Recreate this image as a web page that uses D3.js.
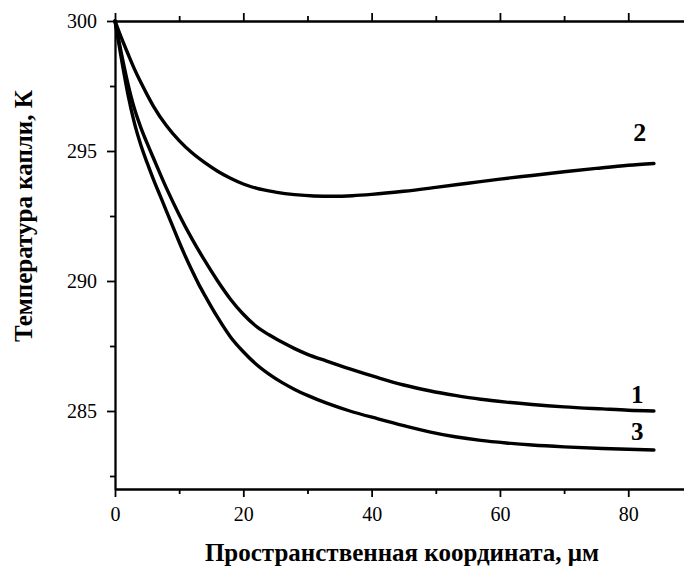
<!doctype html>
<html lang="ru">
<head>
<meta charset="UTF-8">
<title>Температура капли</title>
<script src="https://cdn.jsdelivr.net/npm/d3@7"></script>
<style>
	body { margin: 0; background: #fff; }
	svg text { font-family: "Liberation Serif", "Times New Roman", serif; fill: #000; }
	.axis path, .axis line { stroke: #000; stroke-width: 1.8; }
	.axis text { font-size: 20px; }
	.curve { fill: none; stroke: #000; stroke-width: 3.4; stroke-linejoin: round; stroke-linecap: round; }
	.title { font-size: 25px; font-weight: bold; }
</style>
</head>
<body>
<svg width="684" height="568"></svg>
<script>
// values (x in μm, T in K)
var x1 = [0, 1, 2, 3, 4, 5, 6, 8, 10, 12, 14, 16, 18, 20, 22, 24, 26, 28, 30, 33, 36.6, 41, 45, 49, 53, 57, 61, 65, 70, 76, 80, 84];
var t1 = [300, 298.75, 297.6, 296.65, 295.92, 295.3, 294.72, 293.58, 292.55, 291.62, 290.78, 290.0, 289.3, 288.72, 288.26, 287.93, 287.65, 287.4, 287.18, 286.92, 286.62, 286.28, 286.0, 285.78, 285.6, 285.45, 285.34, 285.25, 285.16, 285.08, 285.03, 285.0];

var x2 = [0, 1, 2, 3, 4, 5, 6, 8, 10, 12, 14, 16, 18, 20, 22, 25, 28, 31, 34, 37, 40, 45, 50, 55, 60, 65, 70, 75, 80, 84];
var t2 = [300, 299.35, 298.75, 298.17, 297.65, 297.17, 296.72, 295.98, 295.4, 294.93, 294.55, 294.22, 293.95, 293.73, 293.57, 293.42, 293.32, 293.27, 293.26, 293.28, 293.33, 293.45, 293.6, 293.76, 293.92, 294.06, 294.2, 294.33, 294.45, 294.52];

var x3 = [0, 1, 2, 3, 4, 5, 6, 7, 8, 9, 10, 11, 12, 13, 14, 16, 18, 20, 22, 24, 26, 28, 30, 33, 36.6, 41, 45, 49, 53, 57, 61, 65, 70, 76, 80, 84];
var t3 = [300, 298.55, 297.2, 296.1, 295.25, 294.55, 293.9, 293.3, 292.7, 292.1, 291.5, 290.93, 290.4, 289.9, 289.45, 288.6, 287.85, 287.28, 286.8, 286.42, 286.1, 285.83, 285.6, 285.3, 285.0, 284.7, 284.44, 284.2, 284.01, 283.87, 283.77, 283.69, 283.62, 283.56, 283.53, 283.5];

var xTicks = [0, 20, 40, 60, 80];
var xMinor = [10, 30, 50, 70];
var yTicks = [285, 290, 295, 300];
var yMinor = [282.5, 287.5, 292.5, 297.5];

var labels = [
	{ name: '1', x: 81.4, t: 285.3, size: 25 },
	{ name: '2', x: 81.8, t: 295.4, size: 26 },
	{ name: '3', x: 81.4, t: 283.9, size: 25 }
];

var svg = d3.select('svg');
var pLeft = 115, pRight = 686, pTop = 21, pBottom = 489;

var x = d3.scaleLinear().domain([0, 89]).range([pLeft, pRight]);
var y = d3.scaleLinear().domain([282, 300]).range([pBottom, pTop]);

// axes: outer ticks on bottom/left, inner ticks on top/right
function addAxis(axis, tr) {
	return svg.append('g').attr('class', 'axis').attr('transform', tr).call(axis);
}
addAxis(d3.axisBottom(x).tickValues(xTicks).tickSize(8).tickPadding(10).tickSizeOuter(0), 'translate(0,' + pBottom + ')');
addAxis(d3.axisBottom(x).tickValues(xMinor).tickSize(5).tickFormat('').tickSizeOuter(0), 'translate(0,' + pBottom + ')');
addAxis(d3.axisLeft(y).tickValues(yTicks).tickSize(8).tickPadding(10).tickSizeOuter(0), 'translate(' + pLeft + ',0)');
addAxis(d3.axisLeft(y).tickValues(yMinor).tickSize(5).tickFormat('').tickSizeOuter(0), 'translate(' + pLeft + ',0)');
addAxis(d3.axisBottom(x).tickValues(xTicks).tickSize(-8).tickFormat('').tickSizeOuter(0), 'translate(0,' + pTop + ')');
addAxis(d3.axisBottom(x).tickValues(xMinor).tickSize(-5).tickFormat('').tickSizeOuter(0), 'translate(0,' + pTop + ')');
addAxis(d3.axisLeft(y).tickValues(yTicks).tickSize(-8).tickFormat('').tickSizeOuter(0), 'translate(' + pRight + ',0)');
addAxis(d3.axisLeft(y).tickValues(yMinor).tickSize(-5).tickFormat('').tickSizeOuter(0), 'translate(' + pRight + ',0)');

var line = d3.line()
	.x(function(d) { return x(d[0]); })
	.y(function(d) { return y(d[1]); })
	.curve(d3.curveMonotoneX);

[[x1, t1], [x2, t2], [x3, t3]].forEach(function(s) {
	svg.append('path')
		.attr('class', 'curve')
		.attr('d', line(d3.zip(s[0], s[1])));
});

svg.selectAll('.lbl')
	.data(labels)
	.enter().append('text')
	.attr('class', 'lbl')
	.attr('x', function(d) { return x(d.x); })
	.attr('y', function(d) { return y(d.t); })
	.attr('text-anchor', 'middle')
	.style('font-size', function(d) { return d.size + 'px'; })
	.style('font-weight', 'bold')
	.text(function(d) { return d.name; });

svg.append('text')
	.attr('class', 'title')
	.attr('x', 402)
	.attr('y', 561)
	.attr('text-anchor', 'middle')
	.text('Пространственная координата, μм');

// y title starts low (near y=342) and runs upward, as in the original
svg.append('text')
	.attr('class', 'title')
	.attr('transform', 'translate(32,342) rotate(-90)')
	.attr('text-anchor', 'start')
	.text('Температура капли, К');
</script>
</body>
</html>
